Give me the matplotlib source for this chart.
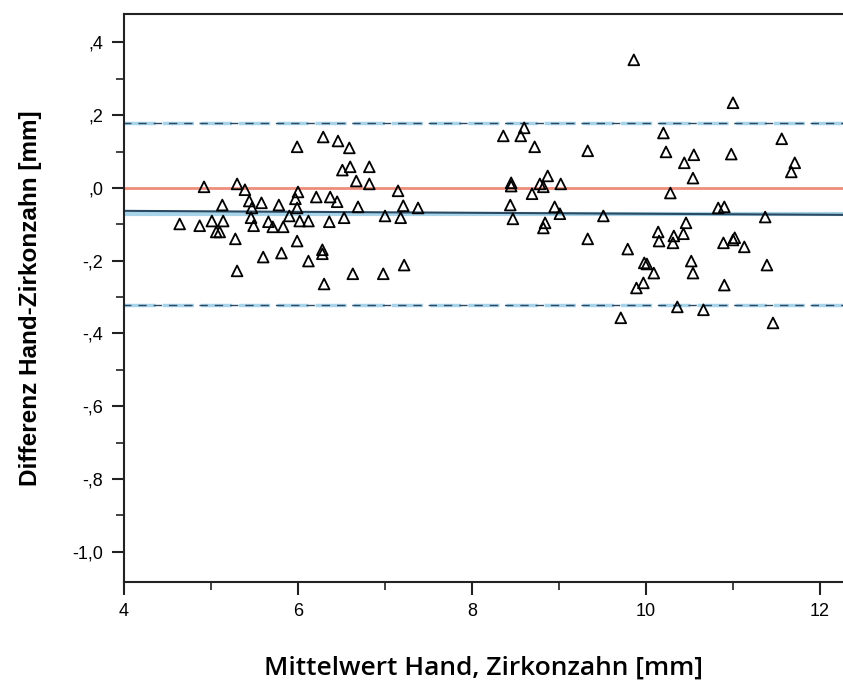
import matplotlib.pyplot as plt
from matplotlib.ticker import FixedLocator

# Bland-Altman data: mean of both methods vs difference
mean_vals = [
    4.64, 4.87, 4.92, 5.01, 5.13, 5.14, 5.06, 5.10, 5.28, 5.30,
    5.39, 5.44, 5.58, 5.47, 5.46, 5.49, 5.30, 5.60, 5.81, 5.78,
    5.66, 5.71, 5.83, 5.90, 5.99, 6.00, 5.97, 5.99, 5.99, 6.02,
    6.12, 6.21, 6.12, 6.28, 6.28, 6.30, 6.29, 6.46, 6.59, 6.37,
    6.45, 6.36, 6.53, 6.51, 6.60, 6.82, 6.67, 6.82, 6.69, 6.63,
    6.98, 7.00, 7.15, 7.21, 7.18, 7.22, 7.38,
    8.36, 8.56, 8.60, 8.72, 9.33, 8.45, 8.45, 8.87, 8.78, 8.82,
    9.02, 8.69, 8.44, 8.47, 8.95, 9.01, 8.84, 8.82, 9.51, 9.33,
    9.86, 10.20, 10.23, 10.44, 10.55, 10.54, 10.28, 11.00, 10.98, 11.56,
    11.71, 11.67, 10.83, 10.90, 11.37, 10.46, 10.14, 10.15, 10.32, 10.31,
    10.43, 9.79, 10.01, 10.09, 10.52, 10.54, 9.97, 9.89, 9.71, 10.36,
    10.66, 10.89, 11.00, 11.02, 11.13, 10.90, 11.39, 11.46, 9.98,
]
diff_vals = [
    -0.099, -0.104, 0.003, -0.091, -0.047, -0.091, -0.121, -0.121, -0.140, 0.011,
    -0.005, -0.036, -0.041, -0.055, -0.082, -0.104, -0.228, -0.190, -0.179, -0.047,
    -0.093, -0.107, -0.107, -0.077, 0.113, -0.011, -0.030, -0.055, -0.146, -0.091,
    -0.091, -0.025, -0.201, -0.170, -0.181, -0.264, 0.140, 0.129, 0.110, -0.025,
    -0.038, -0.093, -0.082, 0.049, 0.058, 0.058, 0.019, 0.011, -0.052, -0.236,
    -0.236, -0.077, -0.008, -0.049, -0.082, -0.212, -0.055,
    0.143, 0.143, 0.165, 0.113, 0.102, 0.014, 0.005, 0.033, 0.011, 0.003,
    0.011, -0.016, -0.047, -0.085, -0.052, -0.071, -0.096, -0.110, -0.077, -0.140,
    0.352, 0.151, 0.099, 0.069, 0.091, 0.027, -0.014, 0.234, 0.093, 0.135,
    0.069, 0.044, -0.055, -0.052, -0.080, -0.096, -0.121, -0.146, -0.132, -0.151,
    -0.126, -0.168, -0.209, -0.234, -0.201, -0.234, -0.261, -0.275, -0.357, -0.327,
    -0.335, -0.151, -0.143, -0.137, -0.162, -0.267, -0.212, -0.371, -0.206,
]

mean_diff = -0.071
upper_loa = 0.179
lower_loa = -0.322
fit_ends = [-0.063, -0.074]  # slight regression line through the differences

yticks = [0.4, 0.2, 0.0, -0.2, -0.4, -0.6, -0.8, -1.0]
ytick_labels = [',4', ',2', ',0', '-,2', '-,4', '-,6', '-,8', '-1,0']
xticks = [4, 6, 8, 10, 12]

light_blue = '#a8d4ea'
dark_blue = '#2a4a63'

fig = plt.figure(figsize=(8.43, 6.85), dpi=100)
ax = fig.add_axes([124 / 843, 103 / 685, 719 / 843, 568 / 685])
xmin, xmax = 4, 4 + 719 / 87
ax.set_xlim(xmin, xmax)
ax.set_ylim(-1.083, 0.478)

# reference lines
ax.axhline(0, color='#ee8d7c', lw=2, zorder=1)
ax.axhline(mean_diff, color=light_blue, lw=3, zorder=1)
ax.plot([xmin, xmax], fit_ends, color=dark_blue, lw=1.5, zorder=2)
for lim in (upper_loa, lower_loa):
    ax.axhline(lim, color=light_blue, lw=2.5, ls=(0, (9, 2)), zorder=1)
    ax.axhline(lim, color=dark_blue, lw=1.0, ls=(1, (6, 5)), zorder=2)

ax.scatter(mean_vals, diff_vals, marker='^', s=60, facecolors='none',
           edgecolors='black', linewidths=1.3, zorder=3)

ax.spines['right'].set_visible(False)
for side in ('left', 'bottom', 'top'):
    ax.spines[side].set_linewidth(1.5)
    ax.spines[side].set_color('#222222')

ax.xaxis.set_major_locator(FixedLocator(xticks))
ax.xaxis.set_minor_locator(FixedLocator([5, 7, 9, 11]))
ax.yaxis.set_major_locator(FixedLocator(yticks))
ax.yaxis.set_minor_locator(FixedLocator([0.3, 0.1, -0.1, -0.3, -0.5, -0.7, -0.9]))
ax.set_yticklabels(ytick_labels, family='Liberation Sans', fontsize=13)
ax.set_xticklabels([str(t) for t in xticks], family='Liberation Sans', fontsize=13)
ax.tick_params(which='major', direction='out', length=9, width=1.5,
               pad=6, colors='#222222', labelcolor='black')
ax.tick_params(which='minor', direction='out', length=6, width=1.2, colors='#222222')

ax.set_xlabel('Mittelwert Hand, Zirkonzahn [mm]', family='Open Sans',
              fontweight='semibold', fontsize=19, labelpad=26)
ax.set_ylabel('Differenz Hand-Zirkonzahn [mm]', family='Liberation Sans',
              fontweight='bold', fontsize=17.5, labelpad=22)

fig.savefig('out.png', dpi=100)
